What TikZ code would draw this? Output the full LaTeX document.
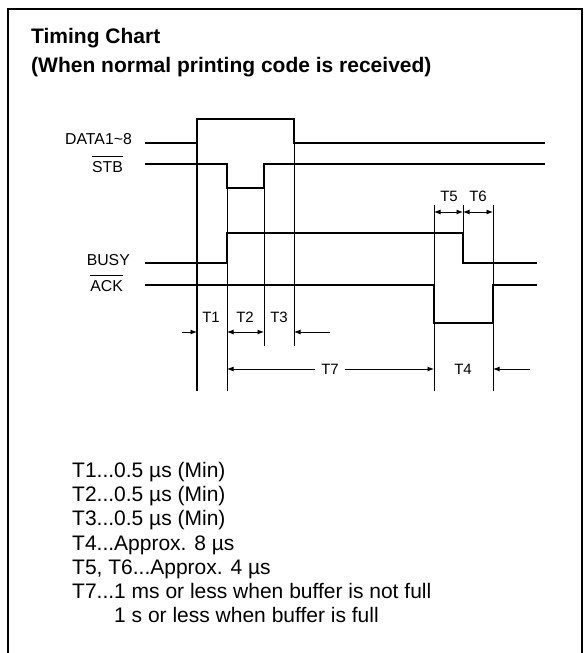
\documentclass[tikz,border=0pt]{standalone}
\usepackage{fontspec}
\setmainfont{Liberation Sans}
\usetikzlibrary{arrows.meta}
\newcommand\ovl[1]{\setbox0\hbox{#1}\rlap{\rule[\dimexpr\ht0+4.5pt\relax]{\wd0}{0.8pt}}#1}
\begin{document}
\begin{tikzpicture}[x=1pt,y=-1pt,
 sig/.style={line width=1.8pt, line join=miter},
 guide/.style={line width=1pt},
 guideb/.style={line width=1.6pt},
 dim/.style={line width=0.9pt,-{Latex[length=6.5pt,width=5pt]}},
 dimb/.style={line width=0.9pt,{Latex[length=6.5pt,width=5pt]}-{Latex[length=6.5pt,width=5pt]}},
 lbl/.style={font=\fontsize{15.8}{18}\selectfont, inner sep=0pt, anchor=base east},
 tl/.style={font=\fontsize{15}{17}\selectfont, inner sep=1.5pt},
 note/.style={font=\fontsize{21}{25}\selectfont, anchor=base west, inner sep=0pt},
 ttl/.style={font=\bfseries\fontsize{21}{25}\selectfont, anchor=base west, inner sep=0pt},
]
\useasboundingbox (0,0) rectangle (585,653);
\draw[line width=1.2pt] (8,653) -- (8,9) -- (582,9) -- (582,653);

% title
\node[ttl] (title1) at (31,43) {Timing Chart};
\node[ttl] (title2) at (31,72) {(When normal printing code is received)};

% signal labels
\node[lbl] (ldata) at (132,144) {DATA1\textasciitilde 8};
\node[lbl] (lstb) at (123,172) {\ovl{STB}};
\node[lbl] (lbusy) at (130,265) {BUSY};
\node[lbl] (lack) at (123,291) {\ovl{ACK}};

% edge positions
\coordinate (e1) at (197,0);
\coordinate (e2) at (227,0);
\coordinate (e3) at (264,0);
\coordinate (e4) at (294,0);
\coordinate (e5) at (434,0);
\coordinate (e6) at (463,0);
\coordinate (e7) at (493,0);
\coordinate (ya) at (0,332);
\coordinate (yb) at (0,369);
\coordinate (yc) at (0,212);

% signals
\draw[sig] (145,143) -- (197,143) -- (197,119) -- (294,119) -- (294,143) -- (545,143);
\draw[sig] (145,164) -- (227,164) -- (227,188) -- (264,188) -- (264,164) -- (545,164);
\draw[sig] (145,263) -- (227,263) -- (227,233) -- (463,233) -- (463,263) -- (537,263);
\draw[sig] (145,285) -- (434,285) -- (434,323) -- (493,323) -- (493,285) -- (537,285);

% guides
\draw[guideb] (197,119) -- (197,391);
\draw[guide] (227,188) -- (227,391);
\draw[guide] (264,188) -- (264,346);
\draw[guide] (294,143) -- (294,346);
\draw[guide] (434,205) -- (434,391);
\draw[guide] (463,205) -- (463,233);
\draw[guide] (493,205) -- (493,391);

% dimension arrows
\coordinate (t1s) at (182,332);
\draw[dim] (t1s) -- (e1 |- ya);
\draw[dimb] (e2 |- ya) -- (e3 |- ya);
\coordinate (t3s) at (330,332);
\draw[dim] (t3s) -- (e4 |- ya);
\node[tl] (T1) at (211,317) {T1};
\node[tl] (T2) at (245,317) {T2};
\node[tl] (T3) at (279,317) {T3};

\draw[dimb] (e2 |- yb) -- (e5 |- yb);
\node[tl, fill=white, inner xsep=6pt] (T7) at (330,369) {T7};
\coordinate (t4s) at (530,369);
\draw[dim] (t4s) -- (e7 |- yb);
\node[tl] (T4) at (463,369) {T4};

\draw[dimb] (e5 |- yc) -- (e6 |- yc);
\draw[dimb] (e6 |- yc) -- (e7 |- yc);
\node[tl] (T5) at (449,196) {T5};
\node[tl] (T6) at (478,196) {T6};

% notes
\node[note] (n1) at (72,477) {T1...0.5 µs (Min)};
\node[note] (n2) at (72,501) {T2...0.5 µs (Min)};
\node[note] (n3) at (72,525) {T3...0.5 µs (Min)};
\node[note] (n4) at (72,550) {T4...Approx. 8 µs};
\node[note] (n5) at (72,574) {T5, T6...Approx. 4 µs};
\node[note] (n6) at (72,598) {T7...1 ms or less when buffer is not full};
\node[note] (n7) at (72,622) {\phantom{T7...}1 s or less when buffer is full};
\end{tikzpicture}
\end{document}
